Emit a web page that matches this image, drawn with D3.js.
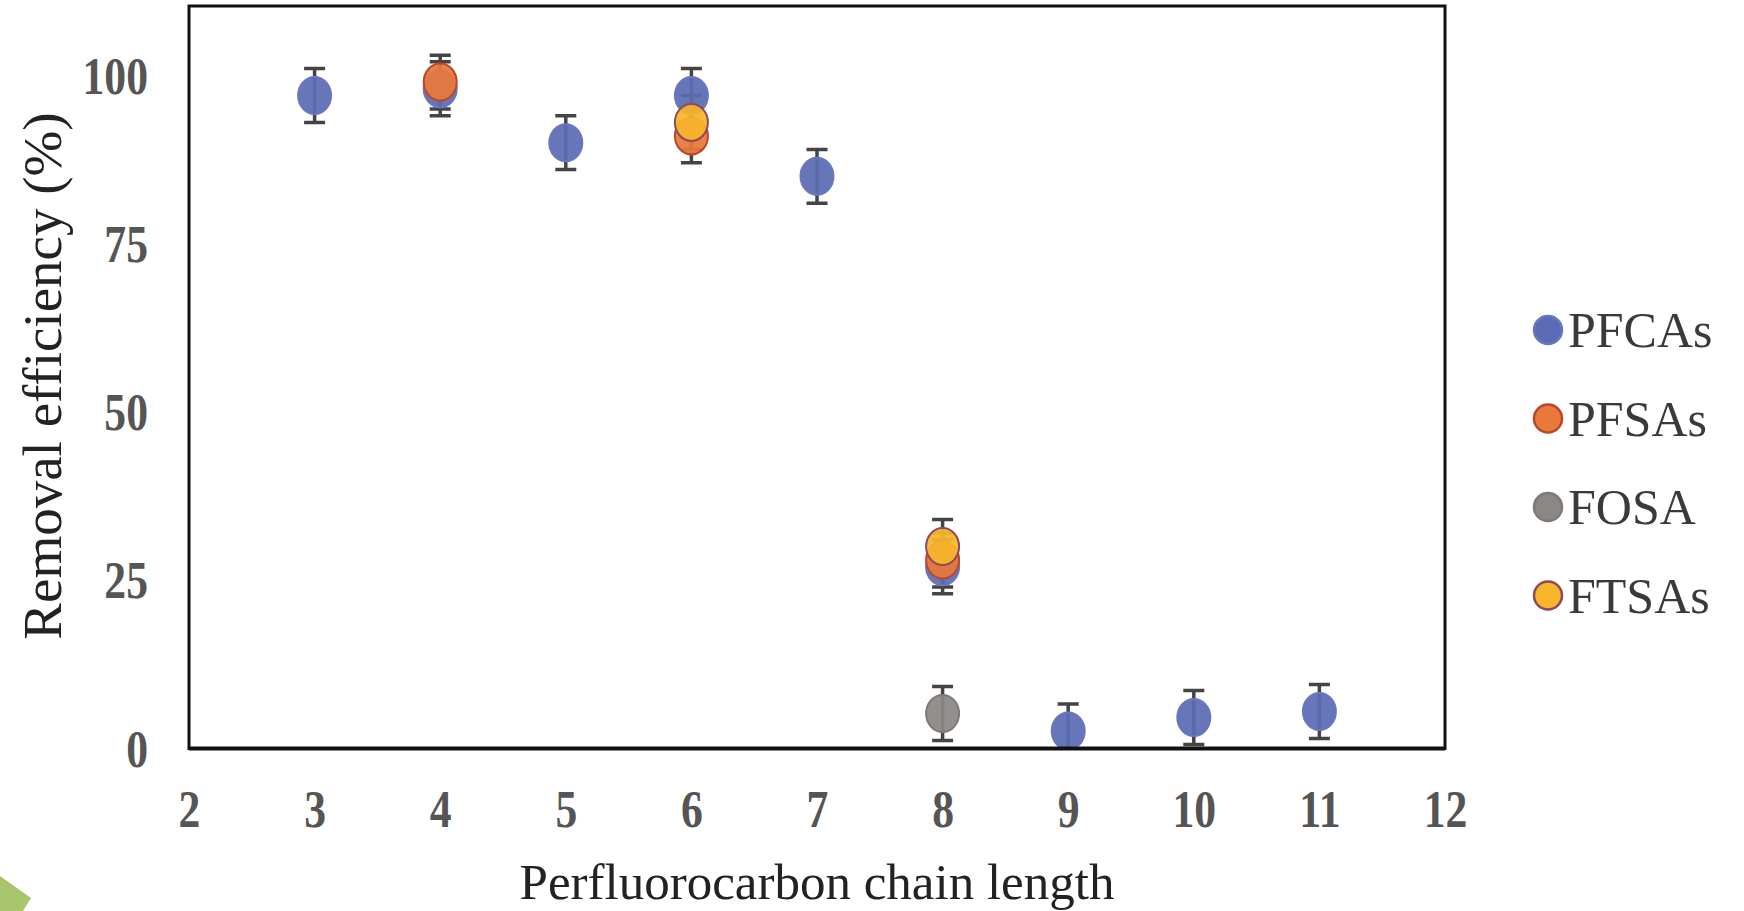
<!DOCTYPE html>
<html lang="en">
   <head>
      <meta charset="UTF-8" />
      <title>Removal efficiency vs perfluorocarbon chain length</title>
      <style>
         body { margin: 0; background: #fff; }
         svg { display: block; }
      </style>
   </head>
   <body>
      <svg width="1744" height="911"></svg>
      <script src="https://d3js.org/d3.v7.min.js"></script>
      <script>
         // values (error bars are +/- in %)
         var seriesNames = ["PFCAs", "PFSAs", "FOSA", "FTSAs"];
         var pfcaX = [3, 4, 5, 6, 7, 8, 9, 10, 11];
         var pfcaY = [97, 98, 90, 97, 85, 27, 2.6, 4.6, 5.5];
         var pfcaErr = [4, 4, 4, 4, 4, 4, 4, 4, 4];
         var pfsaX = [4, 6, 8];
         var pfsaY = [99, 91, 28];
         var pfsaErr = [4, 4, 4];
         var fosaX = [8];
         var fosaY = [5.2];
         var fosaErr = [4];
         var ftsaX = [6, 8];
         var ftsaY = [93, 30];
         var ftsaErr = [4, 4];
         var xTicks = [2, 3, 4, 5, 6, 7, 8, 9, 10, 11, 12];
         var yTicks = [0, 25, 50, 75, 100];

         var fills = ["#5b6ab4", "#e8793a", "#8a8784", "#f7b52c"];
         var strokes = ["#6877bf", "#b9472c", "#7d7a77", "#8e4a5a"];

         var series = [
            {x: pfcaX, y: pfcaY, e: pfcaErr},
            {x: pfsaX, y: pfsaY, e: pfsaErr},
            {x: fosaX, y: fosaY, e: fosaErr},
            {x: ftsaX, y: ftsaY, e: ftsaErr}
         ].map(function(s, i) {
            return s.x.map(function(v, j) { return {x: v, y: s.y[j], e: s.e[j], k: i}; });
         });

         var svg = d3.select("svg"),
             plotLeft = 189, plotRight = 1445, plotTop = 6, plotBottom = 748.5;

         var x = d3.scaleLinear().domain([2, 12]).range([plotLeft, plotRight]);
         var y = d3.scaleLinear().domain([0, 110.3]).range([plotBottom, plotTop]);

         svg.append("clipPath").attr("id", "plotclip")
            .append("rect")
            .attr("x", plotLeft).attr("y", plotTop)
            .attr("width", plotRight - plotLeft).attr("height", plotBottom - plotTop);

         var plot = svg.append("g").attr("clip-path", "url(#plotclip)");

         // error bars first, markers on top
         series.forEach(function(pts) {
            var eb = plot.selectAll(null).data(pts).enter().append("g")
               .attr("stroke", "#444")
               .attr("stroke-width", 3.5);
            eb.append("line")
               .attr("x1", function(d) { return x(d.x); })
               .attr("x2", function(d) { return x(d.x); })
               .attr("y1", function(d) { return y(d.y + d.e); })
               .attr("y2", function(d) { return y(d.y - d.e); });
            eb.append("line")
               .attr("x1", function(d) { return x(d.x) - 10.5; })
               .attr("x2", function(d) { return x(d.x) + 10.5; })
               .attr("y1", function(d) { return y(d.y + d.e); })
               .attr("y2", function(d) { return y(d.y + d.e); });
            eb.append("line")
               .attr("x1", function(d) { return x(d.x) - 10.5; })
               .attr("x2", function(d) { return x(d.x) + 10.5; })
               .attr("y1", function(d) { return y(d.y - d.e); })
               .attr("y2", function(d) { return y(d.y - d.e); });
         });

         series.forEach(function(pts, i) {
            plot.selectAll(null).data(pts).enter().append("ellipse")
               .attr("cx", function(d) { return x(d.x); })
               .attr("cy", function(d) { return y(d.y); })
               .attr("rx", 16.5)
               .attr("ry", 18.5)
               .attr("fill", fills[i])
               .attr("fill-opacity", 0.93)
               .attr("stroke", strokes[i])
               .attr("stroke-width", 2);
         });

         // frame
         svg.append("rect")
            .attr("x", plotLeft).attr("y", plotTop)
            .attr("width", plotRight - plotLeft).attr("height", plotBottom - plotTop)
            .attr("fill", "none")
            .attr("stroke", "#111")
            .attr("stroke-width", 3);
         svg.append("line")
            .attr("x1", plotLeft).attr("x2", plotRight)
            .attr("y1", plotBottom).attr("y2", plotBottom)
            .attr("stroke", "#111").attr("stroke-width", 4);

         // axes
         var xAxis = svg.append("g")
            .attr("transform", "translate(0," + plotBottom + ")")
            .call(d3.axisBottom(x).tickValues(xTicks).tickSize(0).tickFormat(d3.format("d")));
         var yAxis = svg.append("g")
            .attr("transform", "translate(" + plotLeft + ",0)")
            .call(d3.axisLeft(y).tickValues(yTicks).tickSize(0).tickFormat(d3.format("d")));

         svg.selectAll(".domain").remove();

         xAxis.selectAll("text")
            .attr("y", 42)
            .attr("dy", "0.71em")
            .attr("transform", "scale(0.84,1)");
         yAxis.selectAll("text")
            .attr("x", -41 / 0.84)
            .attr("dy", "0.34em")
            .attr("transform", "scale(0.84,1)");
         svg.selectAll(".tick text")
            .attr("font-family", "'Liberation Serif', 'Times New Roman', serif")
            .attr("font-weight", "bold")
            .attr("font-size", 52)
            .attr("fill", "#555");

         svg.append("text")
            .attr("x", (plotLeft + plotRight) / 2)
            .attr("y", 899)
            .attr("text-anchor", "middle")
            .attr("font-family", "'Liberation Serif', 'Times New Roman', serif")
            .attr("font-size", 51)
            .attr("fill", "#222")
            .text("Perfluorocarbon chain length");

         svg.append("text")
            .attr("transform", "translate(61,376) rotate(-90)")
            .attr("text-anchor", "middle")
            .attr("font-family", "'Liberation Serif', 'Times New Roman', serif")
            .attr("font-size", 55)
            .attr("fill", "#222")
            .text("Removal efficiency (%)");

         // legend
         var legend = svg.append("g").selectAll("g")
            .data(seriesNames).enter().append("g")
            .attr("transform", function(d, i) { return "translate(1548," + (330 + i * 88.5) + ")"; });
         legend.append("circle")
            .attr("r", 14)
            .attr("fill", function(d, i) { return fills[i]; })
            .attr("stroke", function(d, i) { return strokes[i]; })
            .attr("stroke-width", 2.5);
         legend.append("text")
            .attr("x", 20)
            .attr("y", 17)
            .attr("font-family", "'Liberation Serif', 'Times New Roman', serif")
            .attr("font-size", 50)
            .attr("fill", "#3a3a3a")
            .text(function(d) { return d; });

         // green slide ornament in the bottom-left corner
         svg.append("path")
            .attr("d", "M0,876 L31,898 L23,911 L0,911 Z")
            .attr("fill", "#a8c56c");
      </script>
   </body>
</html>
